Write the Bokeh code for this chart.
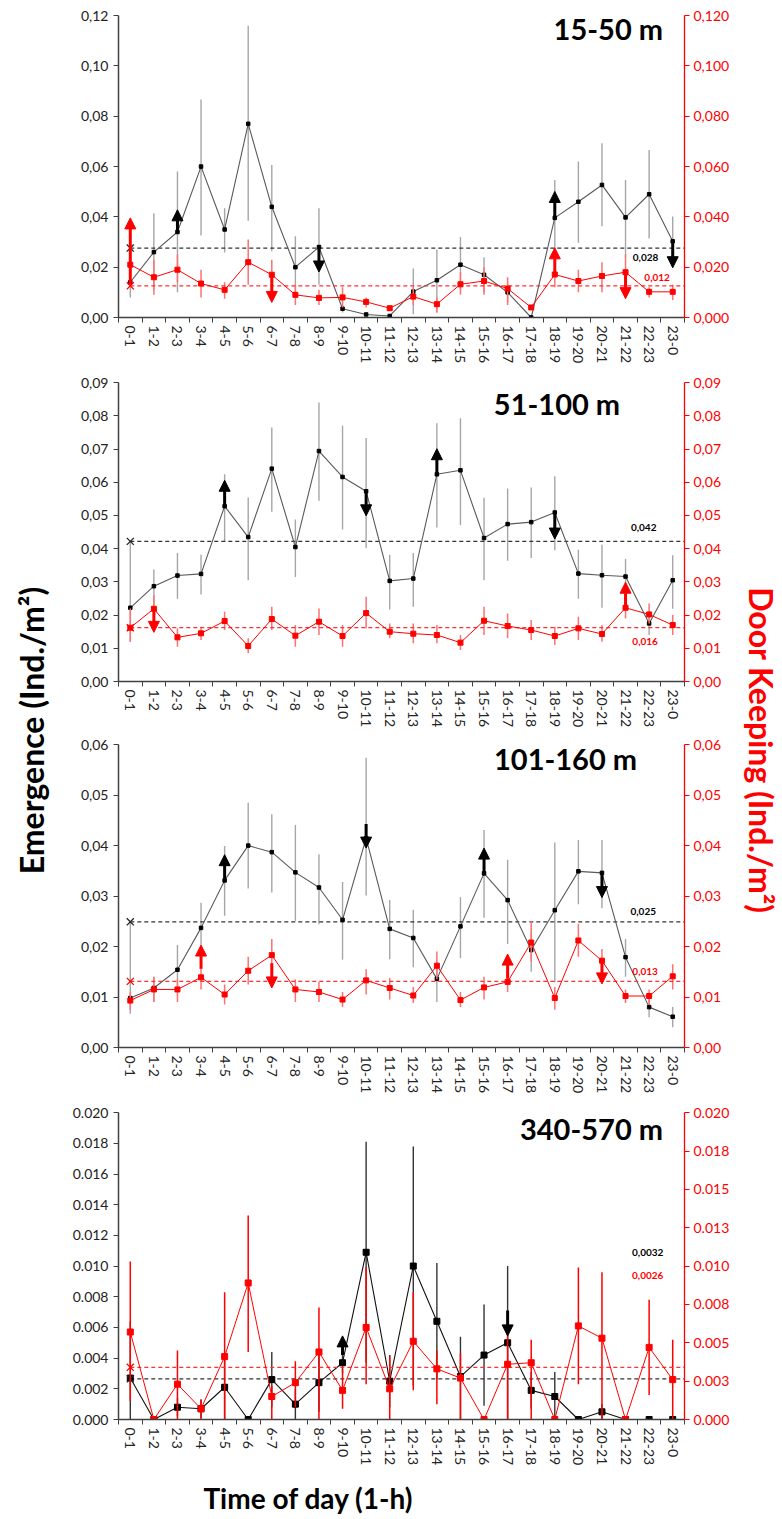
import numpy as np
from bokeh.plotting import figure
from bokeh.models import (ColumnDataSource, Range1d, LinearAxis, FixedTicker,
                          CustomJSTickFormatter, Arrow, NormalHead, Label)
from bokeh.layouts import row, column
from bokeh.embed import file_html
from bokeh.resources import INLINE

# ---------------- data ----------------
CATS = ["0-1", "1-2", "2-3", "3-4", "4-5", "5-6", "6-7", "7-8", "8-9", "9-10",
        "10-11", "11-12", "12-13", "13-14", "14-15", "15-16", "16-17", "17-18",
        "18-19", "19-20", "20-21", "21-22", "22-23", "23-0"]

# Panel 1: 15-50 m
P1_EMERG = [0.014, 0.026, 0.034, 0.060, 0.035, 0.077, 0.044, 0.020, 0.028, 0.0035, 0.0012, 0.0006,
            0.0103, 0.0148, 0.021, 0.017, 0.010, 0.000, 0.0396, 0.046, 0.0527, 0.0398, 0.049, 0.0303]
P1_EMERG_HI = [0.020, 0.0414, 0.058, 0.0867, 0.0434, 0.116, 0.0606, 0.0323, 0.0434, 0.005, 0.002, 0.001,
               0.0195, 0.027, 0.032, 0.024, 0.014, 0.001, 0.0547, 0.062, 0.0693, 0.0547, 0.0666, 0.0402]
P1_EMERG_LO = [0.008, 0.011, 0.010, 0.0326, 0.0258, 0.0385, 0.0263, 0.009, 0.013, 0.002, 0.0005, 0.0002,
               0.0013, 0.002, 0.011, 0.010, 0.006, 0.000, 0.027, 0.0297, 0.0363, 0.024, 0.0314, 0.020]
P1_DOOR = [0.021, 0.016, 0.019, 0.0135, 0.011, 0.022, 0.017, 0.009, 0.0078, 0.008, 0.0062, 0.0037,
           0.0083, 0.0053, 0.0132, 0.0145, 0.0115, 0.004, 0.0171, 0.0145, 0.0165, 0.018, 0.0102, 0.0102]
P1_DOOR_HI = [0.029, 0.023, 0.025, 0.019, 0.014, 0.031, 0.023, 0.013, 0.011, 0.012, 0.008, 0.0045,
              0.012, 0.008, 0.018, 0.020, 0.016, 0.005, 0.022, 0.019, 0.022, 0.025, 0.012, 0.013]
P1_DOOR_LO = [0.013, 0.009, 0.014, 0.008, 0.0075, 0.013, 0.010, 0.005, 0.005, 0.004, 0.004, 0.003,
              0.005, 0.002, 0.009, 0.009, 0.005, 0.003, 0.012, 0.010, 0.010, 0.011, 0.008, 0.007]
P1_MEANS = (0.0276, 0.0126)
P1_MEAN_LABELS = ("0,028", "0,012")
P1_BLACK_ARROWS = [("2-3", 0.034, 0.0428), ("8-9", 0.0287, 0.0181), ("18-19", 0.0396, 0.0501), ("23-0", 0.0303, 0.0198)]
P1_RED_ARROWS = [("0-1", 0.013, 0.0396), ("6-7", 0.0168, 0.006), ("18-19", 0.0171, 0.0277), ("21-22", 0.018, 0.0075)]
P1_LEFT_TICKS = [0.0, 0.02, 0.04, 0.06, 0.08, 0.10, 0.12]
P1_LEFT_LABELS = ["0,00", "0,02", "0,04", "0,06", "0,08", "0,10", "0,12"]
P1_RIGHT_TICKS = [0.0, 0.02, 0.04, 0.06, 0.08, 0.10, 0.12]
P1_RIGHT_LABELS = ["0,000", "0,020", "0,040", "0,060", "0,080", "0,100", "0,120"]

# Panel 2: 51-100 m
P2_EMERG = [0.0222, 0.0287, 0.0319, 0.0324, 0.0528, 0.0435, 0.0641, 0.0405, 0.0694, 0.0616, 0.0573, 0.0303,
            0.031, 0.0624, 0.0636, 0.0432, 0.0474, 0.048, 0.0509, 0.0325, 0.032, 0.0316, 0.0175, 0.0305]
P2_EMERG_HI = [0.042, 0.0337, 0.0387, 0.0382, 0.0624, 0.0554, 0.0765, 0.0488, 0.084, 0.077, 0.0733, 0.0382,
               0.0387, 0.0778, 0.0793, 0.0553, 0.0581, 0.0584, 0.0618, 0.0397, 0.0412, 0.0369, 0.020, 0.038]
P2_EMERG_LO = [0.012, 0.023, 0.0249, 0.0262, 0.042, 0.0305, 0.0511, 0.0315, 0.0544, 0.0458, 0.0402, 0.0217,
               0.0225, 0.0464, 0.0471, 0.0305, 0.0364, 0.0372, 0.0395, 0.0249, 0.0222, 0.026, 0.014, 0.0219]
P2_DOOR = [0.0162, 0.0219, 0.0133, 0.0145, 0.0182, 0.0107, 0.0188, 0.0138, 0.018, 0.0137, 0.0206, 0.015,
           0.0144, 0.014, 0.0117, 0.0183, 0.0167, 0.0155, 0.0137, 0.016, 0.0143, 0.0222, 0.0202, 0.017]
P2_DOOR_HI = [0.022, 0.026, 0.016, 0.0165, 0.021, 0.013, 0.0225, 0.017, 0.022, 0.017, 0.0255, 0.0175,
              0.0175, 0.017, 0.014, 0.0225, 0.0205, 0.0185, 0.0165, 0.0195, 0.017, 0.025, 0.0235, 0.020]
P2_DOOR_LO = [0.012, 0.017, 0.0105, 0.0125, 0.0155, 0.0085, 0.0155, 0.0105, 0.014, 0.0105, 0.016, 0.013,
              0.0115, 0.0115, 0.0095, 0.014, 0.013, 0.0125, 0.011, 0.0125, 0.012, 0.019, 0.0175, 0.014]
P2_MEANS = (0.0422, 0.0162)
P2_MEAN_LABELS = ("0,042", "0,016")
P2_BLACK_ARROWS = [("4-5", 0.0528, 0.0606), ("10-11", 0.0573, 0.0499), ("13-14", 0.0624, 0.0701), ("18-19", 0.0509, 0.0429)]
P2_RED_ARROWS = [("1-2", 0.0222, 0.0148), ("21-22", 0.0222, 0.0299)]
P2_LEFT_TICKS = [0.0, 0.01, 0.02, 0.03, 0.04, 0.05, 0.06, 0.07, 0.08, 0.09]
P2_LEFT_LABELS = ["0,00", "0,01", "0,02", "0,03", "0,04", "0,05", "0,06", "0,07", "0,08", "0,09"]
P2_RIGHT_TICKS = P2_LEFT_TICKS
P2_RIGHT_LABELS = P2_LEFT_LABELS

# Panel 3: 101-160 m
P3_EMERG = [0.0098, 0.0118, 0.0154, 0.0237, 0.0331, 0.040, 0.0387, 0.0347, 0.0317, 0.0253, 0.0415, 0.0235,
            0.0217, 0.0136, 0.024, 0.0345, 0.0292, 0.0193, 0.0272, 0.0349, 0.0346, 0.0179, 0.008, 0.0061]
P3_EMERG_HI = [0.0247, 0.014, 0.0203, 0.0287, 0.0399, 0.0485, 0.0462, 0.0441, 0.0383, 0.0328, 0.0574, 0.0292,
               0.0273, 0.017, 0.0298, 0.0431, 0.0372, 0.023, 0.0406, 0.0411, 0.0411, 0.0215, 0.010, 0.008]
P3_EMERG_LO = [0.0067, 0.009, 0.011, 0.018, 0.0261, 0.0315, 0.0307, 0.0251, 0.0244, 0.0174, 0.0301, 0.0175,
               0.0159, 0.009, 0.0177, 0.0257, 0.0205, 0.015, 0.0129, 0.0284, 0.0276, 0.014, 0.006, 0.004]
P3_DOOR = [0.0093, 0.0115, 0.0115, 0.0139, 0.0105, 0.0152, 0.0183, 0.0115, 0.011, 0.0095, 0.0133, 0.0118,
           0.0103, 0.0162, 0.0094, 0.0119, 0.013, 0.0208, 0.0098, 0.0212, 0.0172, 0.0102, 0.0102, 0.0141]
P3_DOOR_HI = [0.011, 0.014, 0.0135, 0.016, 0.0125, 0.018, 0.0215, 0.0135, 0.013, 0.011, 0.0155, 0.0138,
              0.012, 0.019, 0.011, 0.014, 0.015, 0.025, 0.012, 0.0245, 0.0195, 0.0115, 0.0115, 0.0165]
P3_DOOR_LO = [0.0075, 0.009, 0.009, 0.0115, 0.0085, 0.0125, 0.015, 0.009, 0.009, 0.008, 0.0105, 0.0095,
              0.0088, 0.0135, 0.008, 0.0095, 0.011, 0.017, 0.0075, 0.018, 0.015, 0.0088, 0.0085, 0.0115]
P3_MEANS = (0.0249, 0.0131)
P3_MEAN_LABELS = ("0,025", "0,013")
P3_BLACK_ARROWS = [("4-5", 0.0331, 0.0382), ("10-11", 0.0443, 0.0395), ("15-16", 0.0345, 0.0395), ("20-21", 0.0346, 0.0297)]
P3_RED_ARROWS = [("3-4", 0.0156, 0.0203), ("6-7", 0.0167, 0.0118), ("16-17", 0.0136, 0.0185), ("20-21", 0.0172, 0.0126)]
P3_LEFT_TICKS = [0.0, 0.01, 0.02, 0.03, 0.04, 0.05, 0.06]
P3_LEFT_LABELS = ["0,00", "0,01", "0,02", "0,03", "0,04", "0,05", "0,06"]
P3_RIGHT_TICKS = P3_LEFT_TICKS
P3_RIGHT_LABELS = P3_LEFT_LABELS

# Panel 4: 340-570 m
P4_EMERG = [0.0027, 0.0, 0.0008, 0.0007, 0.0021, 0.0, 0.0026, 0.001, 0.0024, 0.0037, 0.0109, 0.0025,
            0.010, 0.0064, 0.0028, 0.0042, 0.005, 0.0019, 0.0015, 0.0, 0.0005, 0.0, 0.0, 0.0]
P4_EMERG_HI = [0.0064, 0.0, 0.0014, 0.0013, 0.0043, 0.0, 0.0044, 0.002, 0.0043, 0.0045, 0.0181, 0.0042,
               0.0178, 0.0102, 0.0054, 0.0075, 0.010, 0.0031, 0.0031, 0.0, 0.001, 0.0, 0.0, 0.0]
P4_EMERG_LO = [0.0, 0.0, 0.0002, 0.0001, 0.0, 0.0, 0.0008, 0.0, 0.0005, 0.003, 0.0037, 0.0008,
               0.0022, 0.0026, 0.0, 0.0009, 0.0, 0.0007, 0.0, 0.0, 0.0, 0.0, 0.0, 0.0]
P4_DOOR = [0.0057, 0.0, 0.0023, 0.0007, 0.0041, 0.0089, 0.0015, 0.0024, 0.0044, 0.0019, 0.006, 0.002,
           0.0051, 0.0033, 0.0027, 0.0, 0.0036, 0.0037, 0.0, 0.0061, 0.0053, 0.0, 0.0047, 0.0026]
P4_DOOR_HI = [0.0103, 0.0, 0.0045, 0.0013, 0.0083, 0.0133, 0.0022, 0.0038, 0.0073, 0.0033, 0.0099, 0.0041,
              0.0083, 0.0045, 0.0043, 0.0, 0.0064, 0.0052, 0.0, 0.0099, 0.0096, 0.0, 0.0078, 0.0052]
P4_DOOR_LO = [0.0012, 0.0, 0.0, 0.0, 0.0, 0.0044, 0.0, 0.0008, 0.0, 0.0007, 0.0023, 0.0,
              0.0019, 0.001, 0.0, 0.0, 0.0, 0.0, 0.0, 0.0023, 0.0, 0.0, 0.0016, 0.0]
P4_MEANS = (0.00265, 0.0034)
P4_MEAN_LABELS = ("0,0032", "0,0026")
P4_BLACK_ARROWS = [("9-10", 0.0042, 0.00545), ("16-17", 0.0071, 0.00545)]
P4_RED_ARROWS = []
P4_LEFT_TICKS = [0.0, 0.002, 0.004, 0.006, 0.008, 0.010, 0.012, 0.014, 0.016, 0.018, 0.020]
P4_LEFT_LABELS = ["0.000", "0.002", "0.004", "0.006", "0.008", "0.010", "0.012", "0.014", "0.016", "0.018", "0.020"]
P4_RIGHT_TICKS = [0.0, 0.0025, 0.005, 0.0075, 0.010, 0.0125, 0.015, 0.0175, 0.020]
P4_RIGHT_LABELS = ["0.000", "0.003", "0.005", "0.008", "0.010", "0.013", "0.015", "0.018", "0.020"]

TITLES = ["15-50 m", "51-100 m", "101-160 m", "340-570 m"]
X_TITLE = "Time of day (1-h)"
Y_TITLE = "Emergence (Ind./m\u00b2)"
Y2_TITLE = "Door Keeping (Ind./m\u00b2)"

FONT = "Lato"
RED = "#ff0000"
TOTAL_H = 1519
PANEL_W = 682

NEAREST = """
let best = 0;
for (let i = 0; i < vals.length; i++) {
  if (Math.abs(vals[i] - tick) < Math.abs(vals[best] - tick)) { best = i; }
}
return labels[best];
"""


def make_panel(title, emerg, e_hi, e_lo, door, d_hi, d_lo, means, mean_labels,
               b_arrows, r_arrows, lt, ll, rt, rl, height, top, bottom,
               title_pos, mlab_pos, big=False):
    n = len(CATS)
    xc = np.arange(n) + 0.5
    lmax = lt[-1] * 1.0005
    rmax = rt[-1] * 1.0005
    p = figure(width=PANEL_W, height=height, x_range=Range1d(0, n), y_range=Range1d(0, lmax),
               output_backend="svg", toolbar_location=None,
               min_border_left=60, min_border_right=56, min_border_top=top, min_border_bottom=bottom)
    p.outline_line_color = None
    p.xgrid.visible = False
    p.ygrid.visible = False
    p.extra_y_ranges = {"door": Range1d(0, rmax)}

    # x axis
    xa = p.xaxis[0]
    xa.ticker = FixedTicker(ticks=list(xc), minor_ticks=list(range(n + 1)))
    xa.formatter = CustomJSTickFormatter(args=dict(labels=CATS), code="return labels[Math.round(tick - 0.5)];")
    xa.major_label_orientation = "vertical"
    xa.major_tick_line_color = None
    xa.major_tick_out = 0
    xa.major_tick_in = 0
    xa.minor_tick_out = 5
    xa.minor_tick_in = 0
    xa.minor_tick_line_color = "#404040"
    xa.axis_line_color = "#404040"
    xa.axis_line_width = 1.5
    xa.major_label_text_font = FONT
    xa.major_label_text_font_size = "14px"
    xa.major_label_text_color = "#222222"
    xa.major_label_standoff = 3

    # left axis
    ya = p.yaxis[0]
    ya.ticker = FixedTicker(ticks=lt)
    ya.formatter = CustomJSTickFormatter(args=dict(vals=lt, labels=ll), code=NEAREST)
    ya.minor_tick_line_color = None
    ya.major_tick_out = 5
    ya.major_tick_in = 0
    ya.axis_line_color = "#404040"
    ya.axis_line_width = 1.5
    ya.major_tick_line_color = "#404040"
    ya.major_label_text_font = FONT
    ya.major_label_text_font_size = "14px"
    ya.major_label_text_color = "#222222"
    ya.major_label_standoff = 5

    # right axis
    ra = LinearAxis(y_range_name="door", ticker=FixedTicker(ticks=rt),
                    formatter=CustomJSTickFormatter(args=dict(vals=rt, labels=rl), code=NEAREST))
    ra.minor_tick_line_color = None
    ra.major_tick_out = 5
    ra.major_tick_in = 0
    ra.axis_line_color = RED
    ra.axis_line_width = 1.3
    ra.major_tick_line_color = RED
    ra.major_label_text_font = FONT
    ra.major_label_text_font_size = "14px"
    ra.major_label_text_color = RED
    ra.major_label_standoff = 4
    p.add_layout(ra, "right")

    if big:
        b_err, b_line, b_ms, r_err, r_ms = "#333333", "#111111", 6, RED, 6
    else:
        b_err, b_line, b_ms, r_err, r_ms = "#a6a6a6", "#595959", 3.5, "#ff7070", 5

    es = ColumnDataSource(dict(x=xc, y=emerg, hi=e_hi, lo=e_lo))
    ds = ColumnDataSource(dict(x=xc, y=door, hi=d_hi, lo=d_lo))

    # emergence (left axis)
    p.segment(x0="x", y0="lo", x1="x", y1="hi", source=es, line_color=b_err, line_width=1.4)
    p.segment(x0=[xc[0]], y0=[means[0]], x1=[n], y1=[means[0]], line_color="#333333",
              line_width=1.3, line_dash="4 3")
    p.line("x", "y", source=es, line_color=b_line, line_width=1.1)
    p.scatter("x", "y", source=es, marker="square", size=b_ms, fill_color="black", line_color="black")
    p.scatter(x=[xc[0]], y=[means[0]], marker="x", size=10, line_color="#222222", line_width=1.3)

    # door keeping (right axis)
    p.segment(x0="x", y0="lo", x1="x", y1="hi", source=ds, line_color=r_err, line_width=1.5,
              y_range_name="door")
    p.segment(x0=[xc[0]], y0=[means[1]], x1=[n], y1=[means[1]], line_color="#ff3030",
              line_width=1.3, line_dash="4 3", y_range_name="door")
    p.line("x", "y", source=ds, line_color=RED, line_width=1.0, y_range_name="door")
    p.scatter("x", "y", source=ds, marker="square", size=r_ms, fill_color=RED, line_color=RED,
              y_range_name="door")
    p.scatter(x=[xc[0]], y=[means[1]], marker="x", size=10, line_color=RED, line_width=1.3,
              y_range_name="door")

    # arrows
    for arrows, col, rng in ((b_arrows, "black", "default"), (r_arrows, RED, "door")):
        if not arrows:
            continue
        src = ColumnDataSource(dict(x=[CATS.index(a[0]) + 0.5 for a in arrows],
                                    y0=[a[1] for a in arrows], y1=[a[2] for a in arrows]))
        p.add_layout(Arrow(end=NormalHead(size=11, fill_color=col, line_color=col, line_width=1),
                           x_start="x", y_start="y0", x_end="x", y_end="y1", source=src,
                           line_color=col, line_width=3, y_range_name=rng))

    # titles / labels
    p.add_layout(Label(x=title_pos[0], y=title_pos[1], text=title, text_align="right",
                       text_baseline="middle", text_font=FONT, text_font_size="29px",
                       text_font_style="bold", text_color="black"))
    p.add_layout(Label(x=mlab_pos[0][0], y=mlab_pos[0][1], text=mean_labels[0], text_align="center",
                       text_baseline="middle", text_font=FONT, text_font_size="10px",
                       text_font_style="bold", text_color="black"))
    p.add_layout(Label(x=mlab_pos[1][0], y=mlab_pos[1][1], text=mean_labels[1], text_align="center",
                       text_baseline="middle", text_font=FONT, text_font_size="10px",
                       text_font_style="bold", text_color=RED))
    return p


p1 = make_panel(TITLES[0], P1_EMERG, P1_EMERG_HI, P1_EMERG_LO, P1_DOOR, P1_DOOR_HI, P1_DOOR_LO,
                P1_MEANS, P1_MEAN_LABELS, P1_BLACK_ARROWS, P1_RED_ARROWS,
                P1_LEFT_TICKS, P1_LEFT_LABELS, P1_RIGHT_TICKS, P1_RIGHT_LABELS,
                height=366, top=15, bottom=47, title_pos=(23.09, 0.1149),
                mlab_pos=((22.35, 0.0237), (22.84, 0.0158)))
p2 = make_panel(TITLES[1], P2_EMERG, P2_EMERG_HI, P2_EMERG_LO, P2_DOOR, P2_DOOR_HI, P2_DOOR_LO,
                P2_MEANS, P2_MEAN_LABELS, P2_BLACK_ARROWS, P2_RED_ARROWS,
                P2_LEFT_TICKS, P2_LEFT_LABELS, P2_RIGHT_TICKS, P2_RIGHT_LABELS,
                height=364, top=16, bottom=47, title_pos=(21.27, 0.0837),
                mlab_pos=((22.27, 0.0463), (22.33, 0.01196)))
p3 = make_panel(TITLES[2], P3_EMERG, P3_EMERG_HI, P3_EMERG_LO, P3_DOOR, P3_DOOR_HI, P3_DOOR_LO,
                P3_MEANS, P3_MEAN_LABELS, P3_BLACK_ARROWS, P3_RED_ARROWS,
                P3_LEFT_TICKS, P3_LEFT_LABELS, P3_RIGHT_TICKS, P3_RIGHT_LABELS,
                height=366, top=14, bottom=47, title_pos=(21.99, 0.0572),
                mlab_pos=((22.25, 0.027), (22.33, 0.01515)))
p4 = make_panel(TITLES[3], P4_EMERG, P4_EMERG_HI, P4_EMERG_LO, P4_DOOR, P4_DOOR_HI, P4_DOOR_LO,
                P4_MEANS, P4_MEAN_LABELS, P4_BLACK_ARROWS, P4_RED_ARROWS,
                P4_LEFT_TICKS, P4_LEFT_LABELS, P4_RIGHT_TICKS, P4_RIGHT_LABELS,
                height=372, top=16, bottom=47, title_pos=(23.09, 0.01896),
                mlab_pos=((22.44, 0.01087), (22.44, 0.00939)), big=True)

# bottom strip with the x-axis title
BOTTOM_H = TOTAL_H - (366 + 364 + 366 + 372)
bf = figure(width=PANEL_W, height=BOTTOM_H, x_range=Range1d(0, 1), y_range=Range1d(0, 1),
            output_backend="svg", toolbar_location=None, min_border=0,
            x_axis_type=None, y_axis_type=None)
bf.outline_line_color = None
bf.add_layout(Label(x=229 / PANEL_W, y=0.42, text=X_TITLE, text_align="center", text_baseline="middle",
                    text_font=FONT, text_font_size="28px", text_font_style="bold", text_color="black"))


def title_fig(width, text, xpos, ypos, angle, color):
    f = figure(width=width, height=TOTAL_H, x_range=Range1d(0, 1), y_range=Range1d(0, 1),
               output_backend="svg", toolbar_location=None, min_border=0,
               x_axis_type=None, y_axis_type=None)
    f.outline_line_color = None
    f.add_layout(Label(x=xpos, y=ypos, text=text, angle=angle, text_align="center",
                       text_baseline="middle", text_font=FONT, text_font_size="32px",
                       text_font_style="bold", text_color=color))
    return f


lf = title_fig(58, Y_TITLE, 0.534, 1 - 730 / TOTAL_H, np.pi / 2, "black")
rf = title_fig(42, Y2_TITLE, 0.5, 1 - 750 / TOTAL_H, -np.pi / 2, RED)

layout = row(lf, column(p1, p2, p3, p4, bf), rf)
open("out.html", "w").write(file_html(layout, INLINE))
